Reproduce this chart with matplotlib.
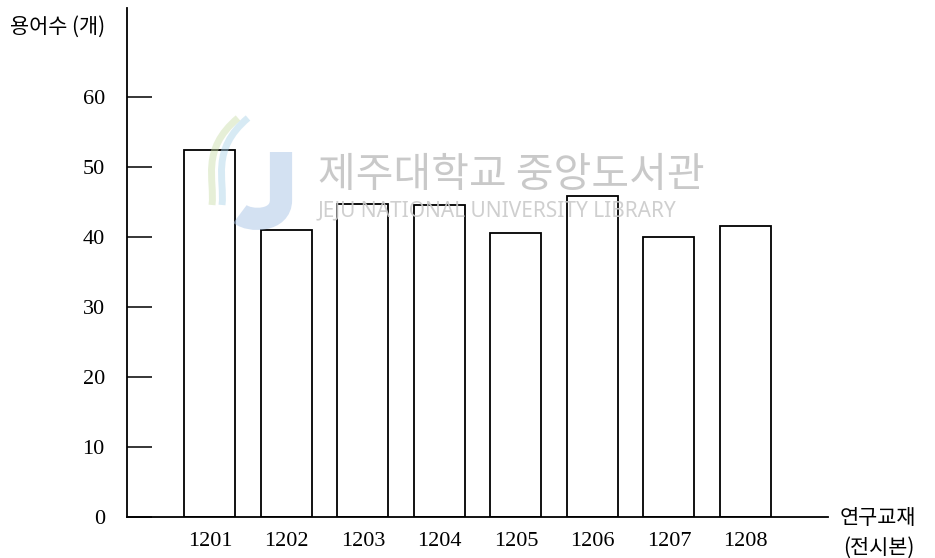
import matplotlib
matplotlib.use("Agg")
import matplotlib.pyplot as plt
from matplotlib.path import Path
import matplotlib.patches as mpatches

categories = ["1201", "1202", "1203", "1204", "1205", "1206", "1207", "1208"]
values = [52.4, 41.0, 44.7, 44.5, 40.5, 45.8, 40.0, 41.6]
yticks = [0, 10, 20, 30, 40, 50, 60]

plt.rcParams['font.family'] = ['Liberation Serif', 'Noto Sans CJK KR']
W, H = 935, 558
fig = plt.figure(figsize=(W / 100, H / 100), dpi=100)
ax = fig.add_axes([127 / W, 41 / H, 701 / W, 509 / H])

x = list(range(len(categories)))
ax.bar(x, values, width=0.667, facecolor='white', edgecolor='black', linewidth=1.3, zorder=2)
ax.set_xlim(-1.085, 8.08)
ax.set_ylim(0, 72.7)

for s in ['top', 'right']:
    ax.spines[s].set_visible(False)
for s in ['left', 'bottom']:
    ax.spines[s].set_linewidth(1.3)
    ax.spines[s].set_color('black')

ax.set_yticks(yticks)
ax.set_yticklabels([str(v) for v in yticks], fontsize=16, family='Liberation Serif')
ax.tick_params(axis='y', direction='in', length=18, width=1.1, pad=16)
ax.set_xticks(x)
ax.set_xticklabels(categories, fontsize=16, family='Liberation Serif')
ax.tick_params(axis='x', length=0, pad=11)

kfont = ['Noto Sans CJK KR', 'DejaVu Sans']
fig.text(10 / W, 1 - 27 / H, "용어수 (개)", fontsize=15, family=kfont, ha='left', va='center')
fig.text(840 / W, 1 - 518 / H, "연구교재", fontsize=15, family=kfont, ha='left', va='center')
fig.text(843 / W, 1 - 548 / H, "(전시본)", fontsize=15, family=kfont, ha='left', va='center')

# watermark
fig.text(318 / W, 1 - 175 / H, "제주대학교 중앙도서관", fontsize=29.5, family=kfont,
         color='#c4c4c4', ha='left', va='center', alpha=0.9, zorder=5)
fig.text(318 / W, 1 - 211 / H, "JEJU NATIONAL UNIVERSITY LIBRARY", fontsize=15,
         family=['Noto Sans', 'DejaVu Sans'], color='#cacaca', ha='left', va='center',
         alpha=0.9, zorder=5)

def fpt(px, py):
    return (px / W, 1 - py / H)

# logo "J"
jpath = Path([fpt(281, 152), fpt(281, 200), fpt(281, 222), fpt(250, 222), fpt(240, 214)],
             [Path.MOVETO, Path.LINETO, Path.CURVE4, Path.CURVE4, Path.CURVE4])
fig.patches.append(mpatches.PathPatch(jpath, transform=fig.transFigure, fill=False,
                                      edgecolor='#a9c4e6', linewidth=16, alpha=0.5,
                                      capstyle='butt', zorder=5))
for (c, off) in [('#c9dca8', 0), ('#a8d2e8', 10)]:
    sp = Path([fpt(238 + off, 118), fpt(200 + off, 150), fpt(215 + off, 180), fpt(212 + off, 205)],
              [Path.MOVETO, Path.CURVE4, Path.CURVE4, Path.CURVE4])
    fig.patches.append(mpatches.PathPatch(sp, transform=fig.transFigure, fill=False,
                                          edgecolor=c, linewidth=5, alpha=0.45, zorder=5))

fig.savefig("out.png", dpi=100, facecolor='white')
